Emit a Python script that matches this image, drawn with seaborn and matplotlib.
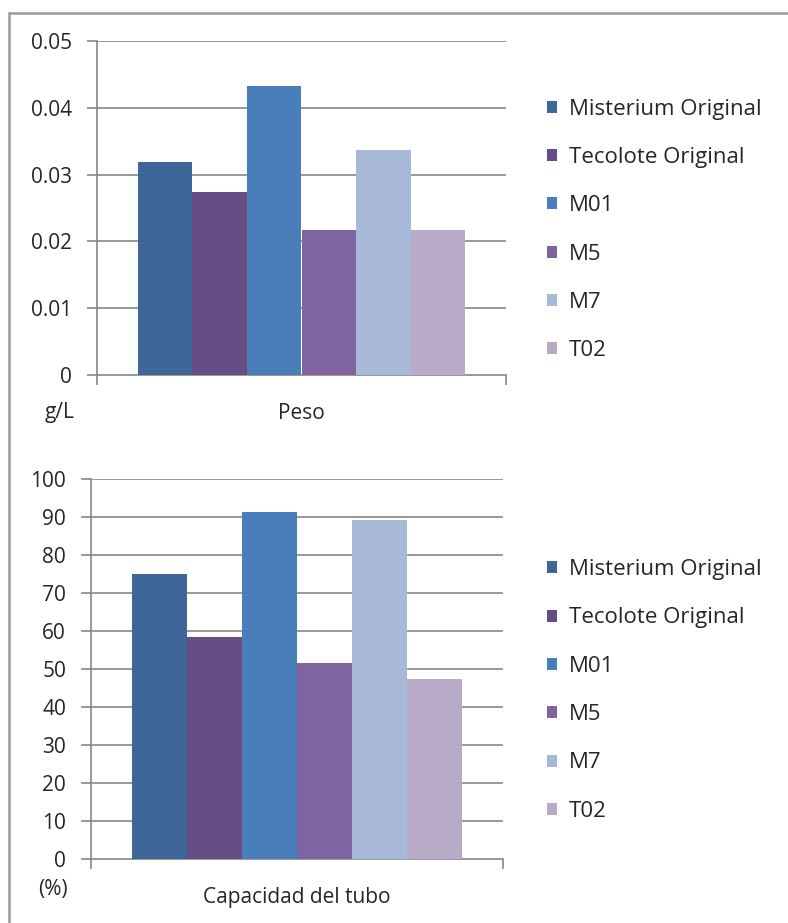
import matplotlib
matplotlib.use("Agg")
import matplotlib.pyplot as plt
from matplotlib.patches import Rectangle
import seaborn as sns
import pandas as pd

# Series shown in both panels
series = ["Misterium Original", "Tecolote Original", "M01", "M5", "M7", "T02"]
colors = ["#3E6699", "#664D85", "#4A7EBB", "#8064A2", "#A8B9D7", "#B8ABC7"]

# Panel 1: weight
peso_category = ["Peso"]
peso_values = [0.0319, 0.0274, 0.0433, 0.0217, 0.0337, 0.0217]
peso_ticks = [0, 0.01, 0.02, 0.03, 0.04, 0.05]
peso_ticklabels = ["0", "0.01", "0.02", "0.03", "0.04", "0.05"]
peso_unit = "g/L"

# Panel 2: tube capacity
cap_category = ["Capacidad del tubo"]
cap_values = [75.0, 58.5, 91.3, 51.7, 89.2, 47.5]
cap_ticks = [0, 10, 20, 30, 40, 50, 60, 70, 80, 90, 100]
cap_ticklabels = [str(t) for t in cap_ticks]
cap_unit = "(%)"

sns.set_theme(style="white")
plt.rcParams["font.family"] = ["Open Sans", "DejaVu Sans"]

W, H = 788, 923
fig = plt.figure(figsize=(W / 100, H / 100), dpi=100)
fig.patch.set_facecolor("white")

GRID = "#868686"
TEXT = "#262626"
FS = 15
LFS = 16


def px_axes(x0, y0, x1, y1):
    return fig.add_axes([x0 / W, 1 - y1 / H, (x1 - x0) / W, (y1 - y0) / H])


def draw_panel(ax, category, values, ticks, ticklabels, unit, unit_xy, legend_y):
    df = pd.DataFrame({"cat": category * len(series), "serie": series, "val": values})
    sns.barplot(data=df, x="cat", y="val", hue="serie", hue_order=series,
                palette=colors, width=0.8, saturation=1, ax=ax, legend=True,
                edgecolor="none", linewidth=0, zorder=3)
    handles, labels = ax.get_legend_handles_labels()
    ax.get_legend().remove()

    ax.set_xlim(-0.5, 0.5)
    ax.set_ylim(ticks[0], ticks[-1])
    ax.set_yticks(ticks)
    ax.set_yticklabels(ticklabels)
    ax.set_xlabel("")
    ax.set_ylabel("")

    for t in ticks[1:]:
        ax.axhline(t, color=GRID, lw=1.2, zorder=1)
    for side in ("top", "right"):
        ax.spines[side].set_visible(False)
    for side in ("left", "bottom"):
        ax.spines[side].set_color(GRID)
        ax.spines[side].set_linewidth(1.2)

    ax.tick_params(axis="y", direction="out", length=7, width=1.2, color=GRID,
                   pad=11, labelsize=FS, labelcolor=TEXT, left=True)
    ax.tick_params(axis="x", which="major", length=0, pad=20, labelsize=FS,
                   labelcolor=TEXT)
    ax.set_xticks([-0.5, 0.5], minor=True)
    ax.tick_params(axis="x", which="minor", direction="out", length=7,
                   width=1.2, color=GRID, bottom=True)

    fig.text(unit_xy[0] / W, 1 - unit_xy[1] / H, unit, ha="center", va="center",
             fontsize=FS, color=TEXT)

    fig.legend(handles, labels, loc="center left",
               bbox_to_anchor=(547 / W, 1 - legend_y / H), frameon=False,
               fontsize=LFS, labelcolor=TEXT, labelspacing=1.23,
               handlelength=0.45, handleheight=0.45, handletextpad=0.55,
               borderaxespad=0, borderpad=0)


ax1 = px_axes(97, 41, 506, 375)
draw_panel(ax1, peso_category, peso_values, peso_ticks, peso_ticklabels,
           peso_unit, (60, 412), 230)

ax2 = px_axes(91, 479, 503, 859)
draw_panel(ax2, cap_category, cap_values, cap_ticks, cap_ticklabels,
           cap_unit, (53, 890), 690.5)

# Chart-area frame along the top and left edges
fig.add_artist(Rectangle((9 / W, -0.05), 1.2, (1 - 13 / H) + 0.05,
                         transform=fig.transFigure, fill=False,
                         edgecolor="#9A9A9A", lw=1.8))

fig.savefig("out.png", dpi=100, facecolor="white")
